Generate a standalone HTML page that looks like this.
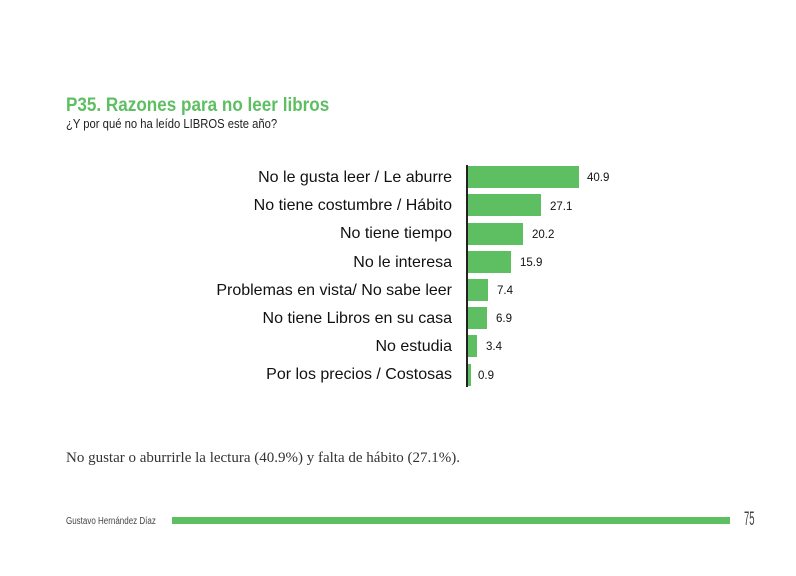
<!DOCTYPE html>
<html><head><meta charset="utf-8"><style>
body{margin:0;width:796px;height:576px;background:#fff;position:relative;font-family:"Liberation Sans",sans-serif;overflow:hidden}
.a{position:absolute;white-space:nowrap}
.lab{position:absolute;right:344px;font-size:16px;color:#111;line-height:18px}
.bar{position:absolute;left:468px;height:22px;background:#5dbf62}
.val{position:absolute;font-size:11.5px;color:#111;line-height:14px}
</style></head><body>
<div class="a" style="left:66px;top:95px;font-size:19px;font-weight:bold;color:#5dbf62;transform:scaleX(0.9);transform-origin:left">P35. Razones para no leer libros</div>
<div class="a" style="left:66px;top:117px;font-size:12.5px;color:#222;transform:scaleX(0.9);transform-origin:left">¿Y por qué no ha leído LIBROS este año?</div>
<div class="a" style="left:466px;top:165px;width:2px;height:222px;background:#222"></div>

<div class="lab" style="top:169px">No le gusta leer / Le aburre</div>
<div class="bar" style="top:166px;width:111px"></div><div class="val" style="left:587px;top:171px">40.9</div>

<div class="lab" style="top:197px">No tiene costumbre / Hábito</div>
<div class="bar" style="top:194px;width:73px"></div><div class="val" style="left:550px;top:200px">27.1</div>

<div class="lab" style="top:225px">No tiene tiempo</div>
<div class="bar" style="top:223px;width:55px"></div><div class="val" style="left:532px;top:228px">20.2</div>

<div class="lab" style="top:254px">No le interesa</div>
<div class="bar" style="top:251px;width:43px"></div><div class="val" style="left:520px;top:256px">15.9</div>

<div class="lab" style="top:282px">Problemas en vista/ No sabe leer</div>
<div class="bar" style="top:279px;width:20px"></div><div class="val" style="left:497px;top:284px">7.4</div>

<div class="lab" style="top:310px">No tiene Libros en su casa</div>
<div class="bar" style="top:307px;width:19px"></div><div class="val" style="left:496px;top:312px">6.9</div>

<div class="lab" style="top:338px">No estudia</div>
<div class="bar" style="top:335px;width:9px"></div><div class="val" style="left:486px;top:340px">3.4</div>

<div class="lab" style="top:366px">Por los precios / Costosas</div>
<div class="bar" style="top:364px;width:3px"></div><div class="val" style="left:478px;top:369px">0.9</div>

<div class="a" style="left:66px;top:450px;font-family:'Liberation Serif',serif;font-size:15px;color:#333">No gustar o aburrirle la lectura (40.9%) y falta de hábito (27.1%).</div>

<div class="a" style="left:66px;top:516px;font-size:10px;color:#444;transform:scaleX(0.8);transform-origin:left">Gustavo Hernández Díaz</div>
<div class="a" style="left:172px;top:517px;width:558px;height:7px;background:#5dbf62"></div>
<div class="a" style="left:744px;top:509px;font-size:19px;color:#444;transform:scaleX(0.5);transform-origin:left">75</div>
</body></html>
